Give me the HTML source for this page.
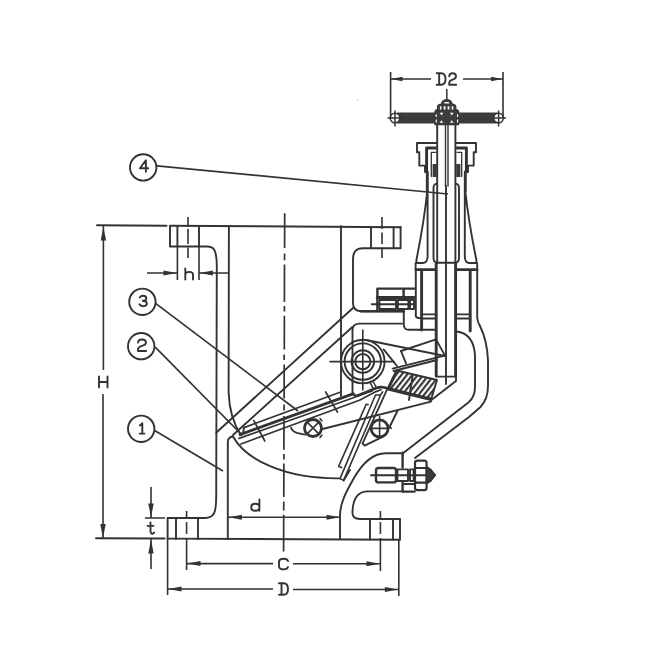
<!DOCTYPE html>
<html><head><meta charset="utf-8"><title>Valve drawing</title>
<style>
html,body{margin:0;padding:0;background:#fff;}
body{width:650px;height:650px;overflow:hidden;font-family:"Liberation Sans",sans-serif;}
svg{display:block;}
.m{fill:none;stroke:#333;stroke-width:1.9;stroke-linecap:round;stroke-linejoin:round;}
.t{fill:none;stroke:#333;stroke-width:1.6;stroke-linecap:butt;}
.k{fill:none;stroke:#333;stroke-width:2.9;stroke-linecap:round;}
.a{fill:#333;stroke:none;}
.g{fill:none;stroke:#333;stroke-width:1.9;stroke-linecap:round;stroke-linejoin:round;}
</style></head><body>
<svg width="650" height="650" viewBox="0 0 650 650">
<rect width="650" height="650" fill="#fff"/>

<circle cx="357.6" cy="100" r="0.7" fill="#bbb"/>
<!-- SECTION: body outline -->
<g id="body" class="m">
<!-- top line -->
<path d="M97,225.3 L166.6,225.7 M170,225.7 L400.6,227.2"/>
<!-- left top flange -->
<path d="M170,226 V246.5 H207 C214,246.6 216.6,250 216.8,265 L216.2,498 C216,513 214,517.6 205,518 H167.6 V539"/>
<path d="M177.4,226 V246.5 M199,226 V246.5"/>
<!-- bottom line -->
<path d="M96,538.2 L164.6,538.5 M167.6,538.6 L400,539.8"/>
<path d="M176,518 V539 M198,518 V539"/>
<!-- left inner wall -->
<path d="M228.9,226 L228.6,392 Q229.4,418 241,435"/>
<path d="M227.8,539 V442 Q228,437 233,436.5 C246,460 285,479 339.6,478.4"/>
<!-- right bore wall -->
<path d="M341,226 V396"/>
<!-- right top flange -->
<path d="M400.6,227 V248.2 H363 Q353,248 353,259 V303 Q353,311 361,311.3 H403.8"/>
<path d="M371,227 V248 M393.6,227 V248"/>
<!-- diagonals -->
<path d="M353,308 L216.4,432.5 M352.4,327 L233,435"/>
<!-- inner ledge -->
<path d="M402,323.6 H359 Q352.5,324 352.5,330 V394"/>
<!-- right bottom flange -->
<path d="M400,519 V539.5 M370,519 V539.5 M393,519 V539.5"/>
<path d="M400,519 H360 Q352,519 352.5,512 Q353,491.4 368,491.4 H402.6"/>
</g>

<!-- SECTION: handwheel -->
<g id="handle">
<rect x="397" y="112.5" width="100.5" height="11" fill="#3b3d3d"/>
<g class="t" style="stroke-width:1.5">
<circle cx="395" cy="118" r="4.8" fill="#fff"/>
<circle cx="498.6" cy="118" r="4.8" fill="#fff"/>
<path d="M387.5,118 H402.5 M395,110.5 V126.5 M491,118 H506 M498.6,110.5 V126.5"/>
<path d="M446.8,89 V100"/>
</g>
<path d="M435,124.6 V112 Q435,110 437.6,109.6 V106.6 Q437.8,104.6 441.4,104.2 Q442,99.8 446.8,99.6 Q451.6,99.8 452.2,104.2 Q455.6,104.6 455.8,106.6 V109.6 Q458.6,110 458.6,112 V124.6 Z" fill="#3b3d3d" stroke="#333" stroke-width="1.2"/>
<path d="M439.9,106.3 h1.5 v3.3 h-1.5z M443.7,106.3 h1.8 v3.3 h-1.8z M447.6,106.3 h1.8 v3.3 h-1.8z M451.7,106.3 h1.6 v3.3 h-1.6z M444.4,102 h4.6 v1.6 h-4.6z M439.8,112.8 h3.6 l-1.8,2.8z M450,112.8 h3.6 l-1.8,2.8z M439.6,122.8 l1.8,-2.6 1.8,2.6z M450,122.8 l1.8,-2.6 1.8,2.6z M435.6,114.2 h1.2 v2.8 h-1.2z M457,114.2 h1.2 v2.8 h-1.2z M435.6,119.6 h1.2 v2.8 h-1.2z M457,119.6 h1.2 v2.8 h-1.2z" fill="#fff"/>
</g>

<!-- SECTION: stem -->
<g id="stem" class="m">
<path d="M437.2,125 V263 M455.4,125 V263"/>
<path d="M445.5,125 V186 M448,125 V186" style="stroke-width:1.4"/>
<path d="M446,186 V384" style="stroke-width:1.9"/>
<path class="k" d="M436.2,264 V376 M455.6,264 V376"/>
<path d="M436.2,376.6 H456"/>
</g>

<!-- SECTION: gland -->
<g id="gland" class="m">
<path d="M437,143 H417 V152.3 H419.3 V165.6 H425 V172"/>
<path d="M456,143 H476 V152.3 H473.7 V165.6 H468 V172"/>
<path class="k" d="M426.6,172 V148 H436"/>
<path class="k" d="M466.4,172 V148 H457"/>
<path d="M431.3,176.5 V152.3 H436 M461.7,176.5 V152.3 H457" style="stroke-width:1.3"/>
<rect x="432.6" y="164" width="4.2" height="13" fill="#3a3a3a" stroke="none"/>
<rect x="456.2" y="164" width="4.2" height="13" fill="#3a3a3a" stroke="none"/>
</g>

<!-- SECTION: yoke -->
<g id="yoke" class="m">
<path class="k" d="M427.3,172 V191"/>
<path class="k" d="M465.3,172 V191"/>
<path d="M427.3,191 Q424,222 416.4,260 Q416,263 419,263 H423 Q427.6,262.6 427.6,256 V191"/>
<path d="M465.3,191 Q468.6,222 476.4,260 Q476.8,263 474,263 H469 Q464.8,262.6 464.8,256 V191"/>
<path d="M437,183.6 Q433.5,184 433.5,188 V258 Q433.6,262.8 438,262.8 H454.6 Q459,262.8 459,258 V188 Q459,184 455.6,183.6"/>
<path d="M415.6,263 V269.4 M477.2,263 V269.4 M415.6,263 H420 M473,263 H477.2"/>
<path class="k" d="M416,269.6 H435 M457,269.6 H477"/>
</g>

<!-- SECTION: bonnet -->
<g id="bonnet" class="m">
<path d="M415.8,270 V315.6 Q416,318 419,318 H421.6"/>
<path class="k" d="M421.6,271 V330"/>
<path d="M477.2,270 V318 Q477.6,322 480,326"/>
<path class="k" d="M470.2,271 V331"/>
<path d="M423,314.4 H436 M423,318.5 H436 M457,314.4 H469 M457,318.5 H469"/>
<path d="M403.8,311.3 V325 Q404,329.8 409,329.8 H436"/>
</g>

<!-- SECTION: right wall -->
<g id="rwall" class="m">
<path d="M480,326 Q487,340 488,360 V386 Q488,399 480.5,407 L469,417 L415,458"/>
<path d="M457,331.5 Q474,334 475,356 V387 Q475,396.4 469,402 L403,453.2 H386 C372,453 362,464 354,478 C346,492 340,503 340,516 V539"/>
<path d="M402.6,452.8 V467.5 M402.6,482.6 V491.6 H414.6" style="stroke-width:2.4"/>
</g>

<!-- SECTION: bolts -->
<g id="bolts" class="m">
<!-- upper bolt -->
<path class="k" d="M377.4,288.6 H414.5 M377.4,288.6 V311 M403.6,288.6 V297.4" style="stroke-width:2.4"/>
<path class="k" d="M377.4,297.6 H414" style="stroke-width:3"/>
<path d="M371.8,304.3 H414 M379.4,300 H396 V309 H379.4Z M397.8,300 H408.4 V309 H397.8Z M410,300 H414 V309 H410Z"/>
<path d="M361,311.3 H403.8" style="stroke-width:2.4"/>
<!-- lower bolt -->
<rect x="376" y="468" width="20" height="14.4" rx="2.5" style="stroke-width:2.4"/>
<path d="M371,475.2 H435"/>
<path d="M397.4,469.4 H408 V481 H397.4Z M410,469.4 H413.6 V481 H410Z" />
<rect x="415" y="460.6" width="11.6" height="29.6" rx="2.5" style="stroke-width:2.2"/>
<path d="M415,468 H426.6 M415,482.6 H426.6" style="stroke-width:2.2"/>
<path d="M426.6,467 L430.6,469.6 L435,475.2 L430.6,481 L426.6,483.4Z" fill="#3a3a3a"/>
<path d="M404,484 H414.6" />
</g>

<!-- SECTION: hinge -->
<g id="hinge" class="m">
<circle cx="362.8" cy="361.6" r="21.8"/>
<circle cx="362.8" cy="361.6" r="18.2"/>
<circle cx="362.8" cy="361.6" r="11.3"/>
<circle cx="362.8" cy="361.6" r="7.6"/>
<path d="M330,361.6 H394 M362.8,330 V390" style="stroke-width:1.6"/>
<path d="M367.4,340.2 L445,356"/>
<path d="M383.6,349.4 L397,366"/>
<path d="M401,351 L436,339.4 L445,355.6"/>
<path d="M401,351 L406,363.4"/>
<path d="M392.6,368.6 L444.6,355.6 M393.6,371 L437,360"/>
</g>

<!-- SECTION: seat block -->
<g id="seat">
<defs>
<pattern id="hp" width="4.3" height="4.3" patternUnits="userSpaceOnUse" patternTransform="rotate(-52)">
<rect width="4.3" height="4.3" fill="#fff"/><rect width="4.3" height="2.1" fill="#333"/></pattern>
</defs>
<path d="M397.6,370.8 L437,380 L431.4,398.6 L389,388.2Z" fill="url(#hp)"/>
<g class="m">
<path d="M397.6,370.8 L437,380 L431.4,398.6 L389,388.2Z"/>
<path class="k" d="M388,389.4 L431,400" style="stroke-width:2.2"/>
<path d="M431.4,400 L456,381 V377"/>
<path d="M322.6,429 L431,401.6"/>
<path d="M412.6,376 L409,400"/>
</g>
</g>

<!-- SECTION: discs -->
<g id="discs" class="m">
<!-- closed disc -->
<path d="M244,427.6 L340,392.2" style="stroke-width:1.7"/>
<path class="k" d="M240,434.6 L353,393.8"/>
<path d="M353,393.6 Q355,397 358.5,395.2 L377,387.8 Q382,386.2 388,388.6" style="stroke-width:2.7"/>
<path d="M239,438.4 L352,398.2 Q362,394.4 372,391" style="stroke-width:1.7"/>
<path d="M241,444 L360,400 L376,391.6 L381,389.8" style="stroke-width:1.7"/>
<path d="M244,427.6 L243,433" />
<path d="M373.4,382 L376.4,387.6 M370.6,383.4 L373.4,388.8" style="stroke-width:1.5"/>
<path d="M253.8,420.6 L264.8,441 M325.7,392 L337.4,412" style="stroke-width:1.7"/>
<!-- small circles -->
<circle cx="313" cy="428" r="8.5" style="stroke-width:2.8"/>
<path d="M307.4,422.4 L318.6,433.6 M318.6,422.4 L307.4,433.6 M320,418.6 L321.8,420.8 M320,437.4 L321.8,435.2" style="stroke-width:1.6"/>
<circle cx="379.6" cy="428.4" r="8.5" style="stroke-width:2.8"/>
<path d="M372,428.4 H387.2 M379.6,420.8 V436 M379.6,416.6 V419.4 M389.4,427.6 L391.4,428.2" style="stroke-width:1.6"/>
<path d="M291,427.6 Q292,432 300,433.6 L305,434.6"/>
<!-- open disc -->
<path d="M382.6,391.8 L380.6,395 L343.6,480.4 M380.6,395 H375.5 L340,478.6 L343.6,480.4 M368,404.6 L366.3,404.2 L338.6,466.4 L341.6,467.6" style="stroke-width:1.6"/>
<path d="M396.2,370.6 L386.2,391.3 L362.6,443.4" style="stroke-width:1.8"/>
<path d="M397.4,411 L389.6,427 M381,437.6 L364.6,445.6 L362.6,443.4"/>
<path d="M343.6,480.4 L350,470"/>
</g>

<!-- SECTION: centerlines -->
<g id="center">
<path class="t" style="stroke-width:1.7" d="M284.7,213.3 L284.6,248.0 M284.6,253.5 L284.5,260.2 M284.5,264.5 L284.4,302.0 M284.4,306.0 L284.4,311.6 M284.4,315.8 L284.3,349.5 M284.2,354.5 L284.2,360.0 M284.2,364.5 L284.1,398.5 M284.1,404.5 L284.1,410.5 M284.0,416.0 L283.9,449.8 M283.9,454.0 L283.9,459.6 M283.9,463.6 L283.8,497.0 M283.8,501.5 L283.7,510.5 M283.7,514.8 L283.6,551.5"/>
<path class="t" d="M188,217 V226.5 M188,228.8 V244 M188,247.6 V258" />
<path class="t" d="M382,217 V229 M382,232.6 V244 M382,247.4 V258" />
<path class="t" d="M186.6,511 V518 M186.6,522 V534 M186.6,538 V570" />
<path class="t" d="M380.4,511 V518 M380.4,522 V534 M380.4,538 V571" />
</g>

<!-- SECTION: dimensions -->
<g id="dims" class="t">
<!-- H -->
<path d="M103.4,226 V370 M103,394 V538"/>
<!-- t -->
<path d="M145,518 H165 M151,487 V518 M151,539 V569"/>
<!-- h -->
<path d="M177.4,246 V280 M199,246 V280 M147,273 H177 M199,273 H228"/>
<!-- d -->
<path d="M228,517.2 H340"/>
<!-- C -->
<path d="M187,563.6 H273 M293,563.8 H380"/>
<!-- D -->
<path d="M167.6,539 V595 M398.8,539 V596 M168,589 H273 M293,589.5 H398"/>
<!-- D2 -->
<path d="M390.6,72 V118 M503,72 V118 M391,79 H431 M463,79 H503"/>
</g>
<g id="arrows" class="a">
<path d="M103.4,226.5 l-2.7,14 h5.4z"/>
<path d="M103,538 l-2.7,-14 h5.4z"/>
<path d="M151,517.5 l-2.7,-14 h5.4z"/>
<path d="M151,539.5 l-2.7,14 h5.4z"/>
<path d="M177,273 l-13.5,-2.5 v5z"/>
<path d="M199.4,273 l13.5,-2.5 v5z"/>
<path d="M228.4,517.2 l13.5,-2.5 v5z"/>
<path d="M340,517.2 l-13.5,-2.5 v5z"/>
<path d="M187,563.6 l13.5,-2.5 v5z"/>
<path d="M380,563.8 l-13.5,-2.5 v5z"/>
<path d="M168,589 l13.5,-2.5 v5z"/>
<path d="M398.4,589.5 l-13.5,-2.5 v5z"/>
<path d="M391,79 l11.5,-2.2 v4.4z"/>
<path d="M502.6,79 l-11.5,-2.2 v4.4z"/>
</g>

<!-- SECTION: labels -->
<g id="labels">
<path class="g" d="M 436.70,73.30 H 441.10 Q 445.50,73.30 445.50,79.05 Q 445.50,84.80 441.10,84.80 H 436.70 M 439.16,73.30 V 84.80 M 449.22,76.29 Q 449.36,73.30 452.60,73.30 Q 455.98,73.30 455.98,76.29 Q 455.98,78.70 452.60,79.62 Q 449.22,80.66 449.22,83.08 V 84.80 H 456.20 M 99.00,376.50 V 387.40 M 107.50,376.50 V 387.40 M 99.00,381.95 H 107.50 M 185.30,268.50 V 279.60 M 185.30,274.05 Q 186.07,271.83 189.15,271.83 Q 193.00,271.83 193.00,274.61 V 279.60 M 150.51,522.50 V 531.24 Q 150.51,533.70 152.52,533.70 Q 153.86,533.70 154.20,532.58 M 147.50,525.86 H 153.53 M 259.40,499.50 V 510.80 M 259.40,507.18 Q 259.40,503.79 255.30,503.79 Q 251.20,503.79 251.20,507.30 Q 251.20,510.80 255.30,510.80 Q 259.40,510.80 259.40,507.18 M 288.00,561.05 Q 287.28,558.70 283.95,558.70 Q 279.00,558.70 279.00,561.91 V 566.19 Q 279.00,569.40 283.95,569.40 Q 287.28,569.40 288.00,567.05 M 279.00,583.20 H 283.50 Q 288.00,583.20 288.00,589.00 Q 288.00,594.80 283.50,594.80 H 279.00 M 281.52,583.20 V 594.80 M 145.90,171.70 V 160.20 L 140.00,168.25 H 148.20 M 139.79,297.46 Q 140.96,295.80 143.15,295.80 Q 146.29,295.80 146.29,298.40 Q 146.29,300.79 142.78,300.79 Q 146.80,300.79 146.80,303.60 Q 146.80,306.20 143.15,306.20 Q 140.59,306.20 139.50,304.33 M 138.05,342.49 Q 138.22,339.50 142.00,339.50 Q 145.95,339.50 145.95,342.49 Q 145.95,344.90 142.00,345.82 Q 138.05,346.86 138.05,349.27 V 351.00 H 146.20 M 139.98,425.49 L 142.32,423.20 V 433.60 M 139.72,433.60 H 144.40"/>
</g>

<!-- SECTION: balloons -->
<g id="balloons">
<g class="t" style="stroke-width:1.9">
<circle cx="143.2" cy="167.4" r="13.2"/>
<circle cx="142.4" cy="301.8" r="13.2"/>
<circle cx="141.2" cy="346.2" r="13.2"/>
<circle cx="141.2" cy="428.8" r="13.2"/>
<path d="M157,165.8 L448,194" style="stroke-width:1.7"/>
<path d="M155.6,303.4 L298,411" style="stroke-width:1.7"/>
<path d="M155.2,347.2 L242,435" style="stroke-width:1.7"/>
<path d="M154.6,430.6 L223,471" style="stroke-width:1.7"/>
</g>

</g>

</svg>
</body></html>
